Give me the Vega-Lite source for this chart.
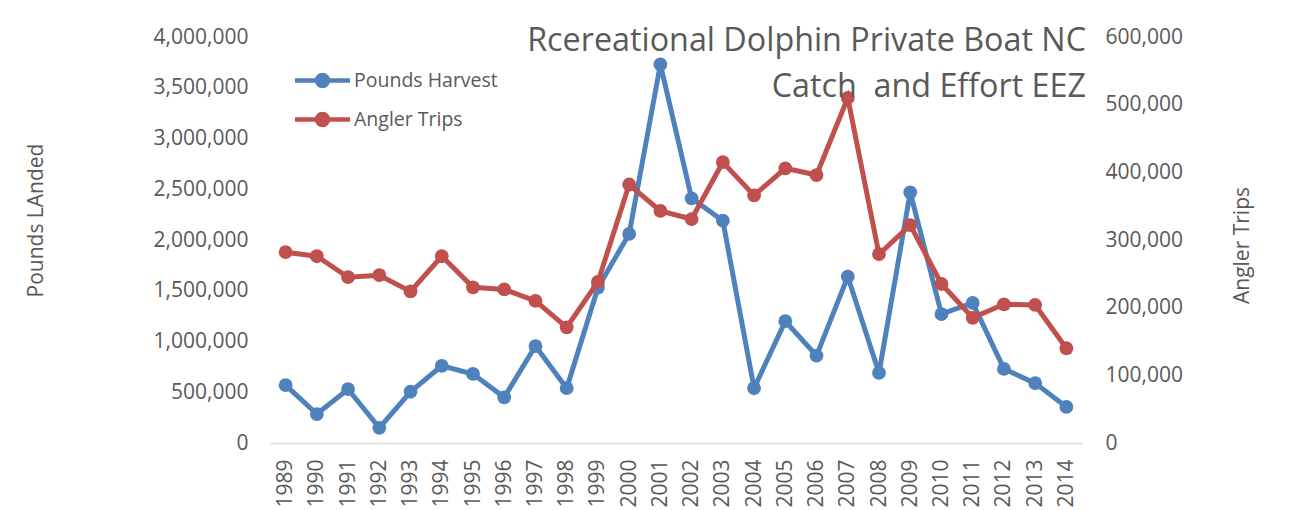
{
  "$schema": "https://vega.github.io/schema/vega-lite/v6.json",
  "autosize": {"type": "none"},
  "padding": {"left": 270, "top": 37, "right": 209, "bottom": 67},
  "width": 812,
  "height": 406,
  "background": "white",
  "config": {
    "font": "Open Sans",
    "view": {"stroke": null},
    "axis": {"grid": false, "ticks": false, "labelColor": "#595959", "titleColor": "#595959", "labelFont": "Open Sans", "titleFont": "Open Sans", "labelFontSize": 21, "titleFontSize": 21, "titleFontWeight": "normal"}
  },
  "title": {
    "text": ["Rcereational Dolphin Private Boat NC", "Catch\u00a0 and Effort EEZ"],
    "anchor": "end",
    "frame": "group",
    "orient": "top",
    "align": "right",
    "baseline": "alphabetic",
    "offset": -103,
    "dx": 4,
    "lineHeight": 46,
    "font": "Open Sans",
    "fontSize": 32.3,
    "fontWeight": "normal",
    "color": "#595959"
  },
  "data": {
    "values": [
      {"year": "1989", "pounds": 570000, "trips": 282000},
      {"year": "1990", "pounds": 285000, "trips": 276000},
      {"year": "1991", "pounds": 530000, "trips": 245000},
      {"year": "1992", "pounds": 150000, "trips": 248000},
      {"year": "1993", "pounds": 505000, "trips": 224000},
      {"year": "1994", "pounds": 760000, "trips": 276000},
      {"year": "1995", "pounds": 680000, "trips": 230000},
      {"year": "1996", "pounds": 450000, "trips": 227000},
      {"year": "1997", "pounds": 955000, "trips": 210000},
      {"year": "1998", "pounds": 540000, "trips": 171000},
      {"year": "1999", "pounds": 1530000, "trips": 238000},
      {"year": "2000", "pounds": 2060000, "trips": 382000},
      {"year": "2001", "pounds": 3730000, "trips": 343000},
      {"year": "2002", "pounds": 2410000, "trips": 331000},
      {"year": "2003", "pounds": 2190000, "trips": 415000},
      {"year": "2004", "pounds": 540000, "trips": 366000},
      {"year": "2005", "pounds": 1200000, "trips": 406000},
      {"year": "2006", "pounds": 860000, "trips": 396000},
      {"year": "2007", "pounds": 1640000, "trips": 510000},
      {"year": "2008", "pounds": 690000, "trips": 279000},
      {"year": "2009", "pounds": 2470000, "trips": 322000},
      {"year": "2010", "pounds": 1270000, "trips": 235000},
      {"year": "2011", "pounds": 1380000, "trips": 185000},
      {"year": "2012", "pounds": 730000, "trips": 205000},
      {"year": "2013", "pounds": 590000, "trips": 204000},
      {"year": "2014", "pounds": 355000, "trips": 140000}
    ]
  },
  "encoding": {
    "x": {
      "field": "year",
      "type": "ordinal",
      "scale": {"type": "point", "padding": 0.5},
      "axis": {"title": null, "labelAngle": -90, "labelPadding": 16, "domainColor": "#D9D9D9", "domainWidth": 1.5, "labelAlign": "right", "labelBaseline": "middle"}
    }
  },
  "layer": [
    {
      "mark": {"type": "line", "strokeWidth": 5, "point": {"filled": true, "size": 190}},
      "encoding": {
        "y": {
          "field": "pounds",
          "type": "quantitative",
          "scale": {"domain": [0, 4000000], "nice": false},
          "axis": {"title": "Pounds LAnded", "values": [0, 500000, 1000000, 1500000, 2000000, 2500000, 3000000, 3500000, 4000000], "format": ",d", "domain": false, "labelPadding": 22, "titleAngle": -90, "titleX": -228, "titleY": 183, "titleAlign": "center", "titleBaseline": "alphabetic"}
        },
        "color": {
          "datum": "Pounds Harvest",
          "type": "nominal",
          "scale": {"domain": ["Pounds Harvest", "Angler Trips"], "range": ["#4F81BD", "#C0504D"]},
          "legend": {
            "title": null,
            "orient": "none",
            "legendX": 40,
            "legendY": 31,
            "padding": 0,
            "rowPadding": 10,
            "labelOffset": 19,
            "labelFont": "Open Sans",
            "labelFontSize": 19.5,
            "labelColor": "#595959",
            "symbolType": "M-2.75,0L2.75,0M0.55,0A0.55,0.55,0,1,1,-0.55,0A0.55,0.55,0,1,1,0.55,0Z",
            "symbolSize": 400,
            "symbolStrokeWidth": 4.5,
            "encode": {"symbols": {"update": {"fill": {"scale": "color", "field": "value"}, "stroke": {"scale": "color", "field": "value"}}}}
          }
        }
      }
    },
    {
      "mark": {"type": "line", "strokeWidth": 5, "point": {"filled": true, "size": 190}},
      "encoding": {
        "y": {
          "field": "trips",
          "type": "quantitative",
          "scale": {"domain": [0, 600000], "nice": false},
          "axis": {"orient": "right", "title": "Angler Trips", "values": [0, 100000, 200000, 300000, 400000, 500000, 600000], "format": ",d", "domain": false, "labelPadding": 23, "titleAngle": -90, "titleX": 166, "titleY": 208, "titleAlign": "center", "titleBaseline": "alphabetic"}
        },
        "color": {"datum": "Angler Trips", "type": "nominal"}
      }
    }
  ],
  "resolve": {"scale": {"y": "independent"}}
}
